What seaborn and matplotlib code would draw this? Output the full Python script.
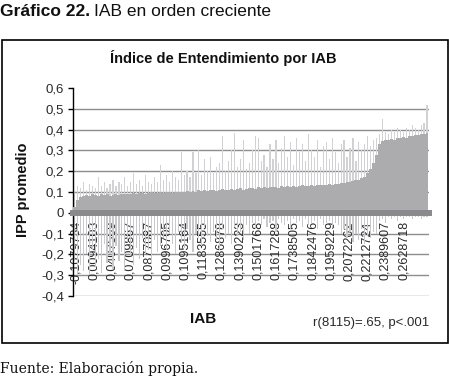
import numpy as np
import pandas as pd
import matplotlib
matplotlib.use("Agg")
import matplotlib.pyplot as plt
import seaborn as sns
from matplotlib.patches import Rectangle

# ---------------- data ----------------
iab_tick_labels = ["-0,1079734", "0,0094103", "0,0407569", "0,0709867", "0,0877087",
                   "0,0996705", "0,1095164", "0,1183555", "0,1286878", "0,1390223",
                   "0,1501768", "0,1617288", "0,1738505", "0,1842476", "0,1959229",
                   "0,2072262", "0,2212724", "0,2389607", "0,2628718"]

y_tick_values = [-0.4, -0.3, -0.2, -0.1, 0.0, 0.1, 0.2, 0.3, 0.4, 0.5, 0.6]
y_tick_labels = ["-0,4", "-0,3", "-0,2", "-0,1", "0", "0,1", "0,2", "0,3", "0,4", "0,5", "0,6"]

# dense body of the bars (IPP promedio), IAB groups in increasing order
ipp_core = [0.03, 0.06, 0.075,
            0.08, 0.085, 0.08, 0.09, 0.085, 0.08, 0.088, 0.085, 0.09, 0.082, 0.087, 0.09, 0.085, 0.088,
            0.09, 0.092, 0.088, 0.095, 0.09, 0.093, 0.097, 0.09, 0.095, 0.1, 0.094, 0.097, 0.1, 0.095,
            0.098, 0.1, 0.096, 0.1, 0.102, 0.098,
            0.1, 0.104, 0.1, 0.106, 0.102, 0.108, 0.104, 0.11, 0.106, 0.108, 0.112, 0.105, 0.11, 0.113,
            0.108, 0.112, 0.115, 0.11, 0.114, 0.117, 0.112, 0.116, 0.118,
            0.12, 0.116, 0.122, 0.118, 0.124, 0.12, 0.125, 0.122, 0.126, 0.12, 0.127, 0.124, 0.128, 0.125,
            0.13, 0.126, 0.129, 0.132, 0.127, 0.131, 0.134, 0.13, 0.133, 0.136, 0.132, 0.135, 0.138, 0.134,
            0.137, 0.14,
            0.142, 0.145, 0.15, 0.148, 0.155, 0.16, 0.158, 0.165,
            0.17, 0.19, 0.21, 0.24, 0.28,
            0.33, 0.345, 0.35, 0.348, 0.355, 0.352, 0.36, 0.358, 0.365, 0.362, 0.37, 0.368, 0.375, 0.372,
            0.38, 0.378, 0.385]

# highest positive bar in each group
ipp_peak = [0.1, 0.13, 0.12, 0.15, 0.11, 0.14, 0.13, 0.12, 0.17, 0.13, 0.15, 0.12, 0.14, 0.16, 0.13, 0.15,
            0.14, 0.17, 0.13, 0.15, 0.19, 0.14, 0.16, 0.13, 0.18, 0.15, 0.14, 0.17, 0.15, 0.23,
            0.16, 0.18, 0.15, 0.2, 0.17, 0.16, 0.29, 0.18, 0.2, 0.17, 0.29, 0.19, 0.3,
            0.18, 0.26, 0.2, 0.27, 0.19, 0.22, 0.24, 0.37, 0.2, 0.25, 0.3, 0.385, 0.22, 0.26, 0.35, 0.21, 0.24,
            0.3, 0.37, 0.36, 0.25, 0.28, 0.22, 0.33, 0.26, 0.35, 0.24, 0.31, 0.37, 0.27, 0.34, 0.23, 0.36,
            0.29, 0.33, 0.25, 0.38, 0.3, 0.27, 0.35, 0.22, 0.32, 0.34, 0.26, 0.36, 0.29, 0.24, 0.33, 0.35,
            0.27, 0.31, 0.36, 0.25, 0.34, 0.3, 0.33, 0.37, 0.32, 0.35, 0.36,
            0.38, 0.45, 0.39, 0.38, 0.4, 0.39, 0.41, 0.4, 0.39, 0.41, 0.4, 0.42, 0.41, 0.4, 0.42, 0.43, 0.52]

# lowest negative bar in each group
ipp_trough = [-0.22, -0.3, -0.25, -0.28, -0.2, -0.3, -0.18, -0.26, -0.22, -0.29, -0.15, -0.24, -0.2, -0.27,
              -0.16, -0.23, -0.19, -0.28, -0.14, -0.21, -0.25, -0.17, -0.22, -0.12, -0.2, -0.18, -0.24,
              -0.13, -0.19, -0.16,
              -0.12, -0.18, -0.1, -0.15, -0.2, -0.09, -0.14, -0.17, -0.08, -0.13, -0.19, -0.1, -0.12, -0.16,
              -0.07, -0.11, -0.14, -0.09, -0.13, -0.18, -0.08, -0.12, -0.1, -0.15, -0.07, -0.11, -0.09,
              -0.13, -0.06, -0.1,
              -0.05, -0.08, -0.04, -0.06, -0.03, -0.07, -0.05, -0.04, -0.09, -0.03, -0.05, -0.06, -0.04,
              -0.08, -0.03, -0.05, -0.04, -0.07, -0.03, -0.06, -0.05, -0.04, -0.08, -0.03, -0.06, -0.05,
              -0.04, -0.07, -0.05, -0.06,
              -0.1, -0.08, -0.12, -0.09, -0.14, -0.1, -0.13, -0.08, -0.15, -0.11, -0.12, -0.09, -0.1,
              -0.04, -0.03, -0.05, -0.02, -0.03, -0.02, -0.04, -0.02, -0.03, -0.02, -0.02, -0.03, -0.02,
              -0.02, -0.03, -0.02, -0.02]

# ---------------- figure ----------------
sns.set_theme(style="white")
plt.rcParams["font.family"] = ["Liberation Sans", "DejaVu Sans"]

W, H = 449, 378
fig = plt.figure(figsize=(W / 100, H / 100), dpi=100)
fig.patch.set_facecolor("white")

ax = fig.add_axes([73 / W, 1 - 296 / H, (428.5 - 73) / W, (296 - 88) / H])
ax.set_facecolor("white")

groups = list(range(len(ipp_core)))
df = pd.DataFrame({"grp": groups, "core": ipp_core, "peak": ipp_peak, "trough": ipp_trough})

sns.barplot(data=df, x="grp", y="peak", color="#d2d2d4", width=0.4, linewidth=0,
            saturation=1, errorbar=None, ax=ax, zorder=2)
sns.barplot(data=df, x="grp", y="trough", color="#c9c9cb", width=0.4, linewidth=0,
            saturation=1, errorbar=None, ax=ax, zorder=2)
sns.barplot(data=df, x="grp", y="core", color="#acacaf", width=1.0, linewidth=0,
            saturation=1, errorbar=None, ax=ax, zorder=3)

ax.set_xlim(-0.5, len(groups) - 0.5)
ax.set_ylim(-0.4, 0.6)

# gridlines (behind bars)
for t in y_tick_values[:-1]:
    ax.axhline(t, color="#8e8e8e", lw=1.0, zorder=0.5)

# y axis
ax.set_yticks(y_tick_values)
ax.set_yticklabels(y_tick_labels)
ax.tick_params(axis="y", direction="out", length=3.5, width=1, color="black",
               labelsize=9.5, labelcolor="#2a2a2a", pad=3, left=True)

# x axis crossing at 0 as a thick grey band
ax.spines["bottom"].set_position(("data", 0))
ax.spines["bottom"].set_color("#8a8a8c")
ax.spines["bottom"].set_linewidth(4.3)
ax.spines["bottom"].set_zorder(4)
ax.spines["left"].set_color("black")
ax.spines["left"].set_linewidth(1)
ax.spines["top"].set_visible(False)
ax.spines["right"].set_visible(False)

tick_pos = [0.4 + 6.15 * k for k in range(len(iab_tick_labels))]
ax.set_xticks(tick_pos)
ax.set_xticklabels(iab_tick_labels, rotation=90)
ax.tick_params(axis="x", length=0, pad=6, labelsize=9, labelcolor="#2a2a2a")
ax.set_xlabel("")
ax.set_ylabel("")

# titles and labels
fig.text(223 / W, 1 - 58 / H, "Índice de Entendimiento por IAB", weight="bold",
         fontsize=10.5, ha="center", va="center", color="#111111")
fig.text(23 / W, 1 - 190 / H, "IPP promedio", weight="bold",
         fontsize=10.5, rotation=90, ha="center", va="center", color="#111111")
fig.text(203 / W, 1 - 319 / H, "IAB", weight="bold",
         fontsize=11, ha="center", va="center", color="#111111")
fig.text(429 / W, 1 - 323 / H, "r(8115)=.65, p<.001", fontsize=9.5, ha="right",
         va="center", color="#2a2a2a")

# header and source
hdr_bold = fig.text(0 / W, 1 - 11 / H, "Gráfico 22.", fontsize=12.5, weight="bold", ha="left",
                    va="center", color="#111111")
fig.canvas.draw()
bb = hdr_bold.get_window_extent(renderer=fig.canvas.get_renderer())
fig.text((bb.x1 + 4) / W, 1 - 11 / H, "IAB en orden creciente", fontsize=12.5, ha="left",
         va="center", color="#111111")
fig.text(0 / W, 1 - 368 / H, "Fuente: Elaboración propia.", family=["DejaVu Serif"],
         fontsize=10, ha="left", va="center", color="#111111")

# outer frame of the chart
fig.add_artist(Rectangle((1.5 / W, 1 - 343 / H), (447.5 - 1.5) / W, (343 - 40) / H,
                         transform=fig.transFigure, fill=False, edgecolor="black", lw=1.2))

fig.savefig("out.png", dpi=100, facecolor="white")
